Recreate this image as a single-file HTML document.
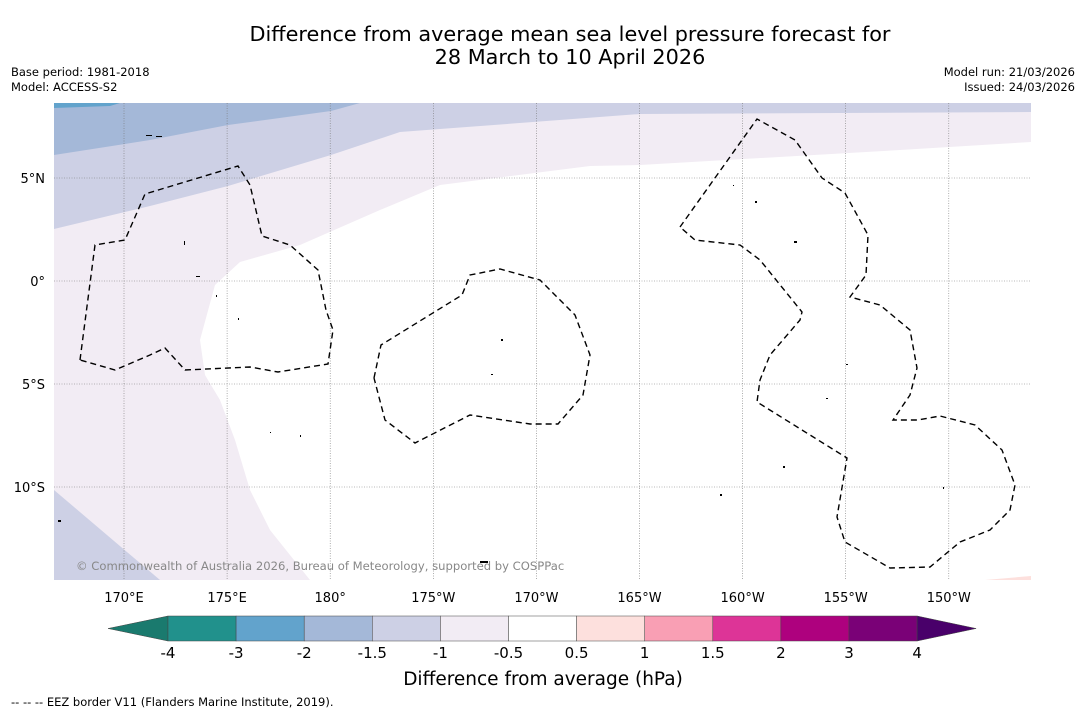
<!DOCTYPE html>
<html><head><meta charset="utf-8"><style>
body{margin:0;background:#fff;font-family:"Liberation Sans","DejaVu Sans",sans-serif;}
svg text{font-family:"DejaVu Sans","Liberation Sans",sans-serif;}
</style></head><body>
<svg width="1085" height="713" viewBox="0 0 1085 713">
<text x="570" y="41" font-size="20.8" text-anchor="middle">Difference from average mean sea level pressure forecast for</text>
<text x="570" y="64" font-size="20.8" text-anchor="middle">28 March to 10 April 2026</text>
<text x="11" y="76" font-size="11.5">Base period: 1981-2018</text>
<text x="11" y="91" font-size="11.5">Model: ACCESS-S2</text>
<text x="1075" y="76" font-size="11.5" text-anchor="end">Model run: 21/03/2026</text>
<text x="1075" y="91" font-size="11.5" text-anchor="end">Issued: 24/03/2026</text>
<defs><clipPath id="mc"><rect x="54" y="103" width="977" height="477"/></clipPath></defs>
<g clip-path="url(#mc)">
<rect x="54" y="103" width="977" height="477" fill="#ffffff"/>
<polygon fill="#f2ecf4" points="54,103 1031,103 1031,142 900,150 640,165 590,166 440,185 380,210 300,245 240,262 215,285 200,340 205,375 220,400 235,440 250,490 270,530 310,580 54,580"/>
<polygon fill="#cdd0e5" points="54,103 1031,103 1031,112 640,114 400,132 331,155 228,186 150,206 54,229"/>
<polygon fill="#cdd0e5" points="54,490 160,580 54,580"/>
<polygon fill="#a4b8d8" points="54,103 360,103 331,111 228,125 150,140 54,155"/>
<polygon fill="#62a3cc" points="54,103 120,103 110,106 54,108"/>
<polygon fill="#fde0dd" points="985,580 1031,576 1031,580"/>
<g id="grid" stroke="#777" stroke-width="0.6" stroke-dasharray="1,1.5"></g>
<g fill="none" stroke="#000" stroke-width="1.4" stroke-dasharray="6,4">
<polyline points="80,360 95,245 125,240 145,194 238,166 250,185 262,236 290,245 318,270 326,310 333,330 328,364 278,372 250,367 185,370 165,348 150,355 115,370 80,360"/>
<polyline points="374,378 381,345 462,295 470,275 500,269 540,280 575,315 590,355 583,395 558,424 530,424 470,415 415,443 385,420 374,378"/>
<polyline points="680,227 757,119 795,140 822,178 845,193 868,235 866,275 850,297 880,305 910,330 917,368 910,395 893,420 918,420 940,416 975,425 1002,450 1015,485 1010,510 990,530 960,542 930,567 890,568 845,542 837,517 847,458 757,402 760,380 770,355 800,320 802,312 760,260 740,245 695,240 680,227"/>
</g>
<g fill="#000">
<rect x="146" y="135" width="6" height="1"/><rect x="156" y="136" width="6" height="1"/><rect x="184" y="241" width="1" height="4"/><rect x="196" y="276" width="4" height="1"/><rect x="501" y="339" width="2" height="2"/><rect x="491" y="374" width="2" height="1"/><rect x="755" y="201" width="2" height="2"/><rect x="794" y="241" width="3" height="2"/><rect x="783" y="466" width="2" height="2"/><rect x="480" y="561" width="8" height="2"/><rect x="58" y="520" width="3" height="2"/><rect x="720" y="494" width="2" height="2"/><rect x="216" y="295" width="1" height="2"/><rect x="238" y="318" width="1" height="2"/><rect x="270" y="432" width="1" height="1"/><rect x="300" y="435" width="1" height="2"/><rect x="733" y="185" width="1" height="1"/><rect x="846" y="364" width="2" height="1"/><rect x="826" y="398" width="2" height="1"/><rect x="943" y="487" width="1" height="2"/>
</g>
<text x="76" y="570" font-size="11.6" fill="#888">© Commonwealth of Australia 2026, Bureau of Meteorology, supported by COSPPac</text>
</g>
<g id="axes" font-size="13"></g>
<g id="cbar"></g>
<text x="543" y="685" font-size="18.5" text-anchor="middle">Difference from average (hPa)</text>
<text x="11" y="706" font-size="11.5">--  --  -- EEZ border V11 (Flanders Marine Institute, 2019).</text>
</svg>
<script>
const lonTicks=[170,175,180,185,190,195,200,205,210];
const lonLabels=["170°E","175°E","180°","175°W","170°W","165°W","160°W","155°W","150°W"];
const latTicks=[5,0,-5,-10];
const latLabels=["5°N","0°","5°S","10°S"];
const cbarLevels=["-4","-3","-2","-1.5","-1","-0.5","0.5","1","1.5","2","3","4"];
const cbarColors=["#21918c","#62a3cc","#a4b8d8","#cdd0e5","#f2ecf4","#ffffff","#fde0dd","#f99fb4","#dd3497","#ae017e","#7a0177"];
const NS="http://www.w3.org/2000/svg";
const xLon=l=>124+(l-170)*20.62;
const yLat=l=>281-l*20.6;
const grid=document.getElementById('grid'),axes=document.getElementById('axes');
function mk(t,a,p){const e=document.createElementNS(NS,t);for(const k in a)e.setAttribute(k,a[k]);p.appendChild(e);return e;}
lonTicks.forEach((l,i)=>{const x=xLon(l);
const g=mk('line',{x1:x,x2:x,y1:103,y2:580},grid);


const t=mk('text',{x:x,y:602,'text-anchor':'middle'},axes);t.textContent=lonLabels[i];

});
latTicks.forEach((l,i)=>{const y=yLat(l);
const g=mk('line',{x1:54,x2:1031,y1:y,y2:y},grid);


const t=mk('text',{x:45,y:y+5,'text-anchor':'end'},axes);t.textContent=latLabels[i];

});
const cb=document.getElementById('cbar');const x0=168,w=68.1,y0=616,h=25;
const la=mk('polygon',{points:`108,${y0+h/2} ${x0},${y0} ${x0},${y0+h}`,fill:'#1a7a6e',stroke:'#444','stroke-width':0.5},cb);


cbarColors.forEach((c,i)=>{const r=mk('rect',{x:x0+i*w,y:y0,width:w,height:h,fill:c,stroke:'#444','stroke-width':0.5},cb);

});
const xe=x0+cbarColors.length*w;
const ra=mk('polygon',{points:`${xe},${y0} ${xe+59},${y0+h/2} ${xe},${y0+h}`,fill:'#49006a',stroke:'#444','stroke-width':0.5},cb);


cbarLevels.forEach((v,i)=>{const t=mk('text',{x:x0+i*w,y:658,'text-anchor':'middle','font-size':15},cb);t.textContent=v;

});
</script>
</body></html>
